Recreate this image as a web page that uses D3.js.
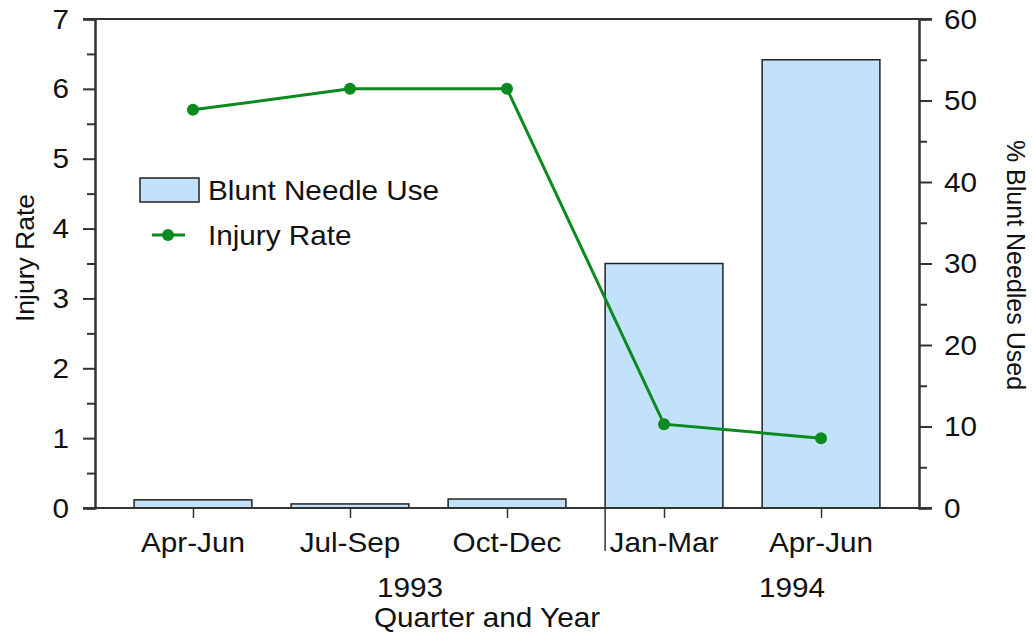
<!DOCTYPE html>
<html>
<head>
<meta charset="utf-8">
<script src="https://cdn.jsdelivr.net/npm/d3@7"></script>
<style>
  body { margin: 0; background: #fff; }
  text { font-family: "Liberation Sans", Arial, sans-serif; fill: #111; }
</style>
</head>
<body>
<script>
// data
const quarters = ["Apr-Jun", "Jul-Sep", "Oct-Dec", "Jan-Mar", "Apr-Jun "];
const quarterLabels = ["Apr-Jun", "Jul-Sep", "Oct-Dec", "Jan-Mar", "Apr-Jun"];
const bluntPct = [1.0, 0.5, 1.1, 30, 55];
const injuryRate = [5.7, 6.0, 6.0, 1.2, 1.0];
const years = [{label: "1993", x: 410}, {label: "1994", x: 792}];
const leftTicks = [0, 1, 2, 3, 4, 5, 6, 7];
const rightTicks = [0, 10, 20, 30, 40, 50, 60];

const width = 1033, height = 637;
const margin = {left: 95, right: 114, top: 19, bottom: 129};
const fs = 27, stretch = 1.1;

const svg = d3.select("body").append("svg")
    .attr("width", width)
    .attr("height", height);

const x = d3.scalePoint()
    .domain(quarters)
    .range([margin.left, width - margin.right])
    .padding(0.624);
const barW = x.step() * 0.75;

const yL = d3.scaleLinear().domain([0, 7]).range([height - margin.bottom, margin.top]);
const yR = d3.scaleLinear().domain([0, 60]).range([height - margin.bottom, margin.top]);

const x0 = margin.left, x1 = width - margin.right, yb = yL(0), yt = yL(7);

// horizontal text with a slight widening like the original
function label(g, txt, tx, ty, anchor) {
    return g.append("text")
        .attr("transform", `translate(${tx},${ty}) scale(${stretch},1)`)
        .attr("text-anchor", anchor)
        .attr("font-size", fs)
        .text(txt);
}

// bars
svg.selectAll("rect.bar")
    .data(bluntPct)
    .join("rect")
    .attr("class", "bar")
    .attr("x", (d, i) => x(quarters[i]) - barW / 2)
    .attr("width", barW)
    .attr("y", d => yR(d))
    .attr("height", d => yR(0) - yR(d))
    .attr("fill", "#c2e1fb")
    .attr("stroke", "#222")
    .attr("stroke-width", 1.5);

// frame lines: top and bottom
svg.append("line").attr("x1", x0 - 12).attr("x2", x1 + 13).attr("y1", yt).attr("y2", yt)
    .attr("stroke", "#333").attr("stroke-width", 2);
svg.append("line").attr("x1", x0 - 12).attr("x2", x1 + 13).attr("y1", yb).attr("y2", yb)
    .attr("stroke", "#333").attr("stroke-width", 2);

// left axis
const gl = svg.append("g").attr("transform", `translate(${x0},0)`);
gl.call(d3.axisLeft(yL).tickValues(leftTicks).tickSize(12).tickFormat(""));
gl.append("g").call(d3.axisLeft(yL).tickValues(d3.range(0.5, 7, 1)).tickSize(8).tickFormat(""));
gl.selectAll(".domain").attr("stroke", "#333").attr("stroke-width", 2);
gl.selectAll(".tick line").attr("stroke", "#333").attr("stroke-width", 2);
leftTicks.forEach(t => label(svg, t, 69, yL(t), "end").attr("dominant-baseline", "central"));

// right axis
const gr = svg.append("g").attr("transform", `translate(${x1},0)`);
gr.call(d3.axisRight(yR).tickValues(rightTicks).tickSize(13).tickFormat(""));
gr.append("g").call(d3.axisRight(yR).tickValues(d3.range(5, 60, 10)).tickSize(8).tickFormat(""));
gr.selectAll(".domain").attr("stroke", "#333").attr("stroke-width", 2);
gr.selectAll(".tick line").attr("stroke", "#333").attr("stroke-width", 2);
rightTicks.forEach(t => label(svg, t, 944, yR(t), "start").attr("dominant-baseline", "central"));

// bottom category ticks and labels
const gb = svg.append("g").attr("transform", `translate(0,${yb})`);
gb.call(d3.axisBottom(x).tickSize(10).tickFormat(""));
gb.select(".domain").remove();
gb.selectAll(".tick line").attr("stroke", "#333").attr("stroke-width", 1.5);
quarters.forEach((q, i) => label(svg, quarterLabels[i], x(q), 552, "middle"));

// year divider
svg.append("line")
    .attr("x1", x(quarters[3]) - barW / 2).attr("x2", x(quarters[3]) - barW / 2)
    .attr("y1", yb).attr("y2", yb + 43)
    .attr("stroke", "#333").attr("stroke-width", 1.5);

years.forEach(yr => label(svg, yr.label, yr.x, 597, "middle"));
label(svg, "Quarter and Year", 487, 627, "middle");

// axis titles
svg.append("text")
    .attr("transform", "translate(34,258) rotate(-90)")
    .attr("text-anchor", "middle")
    .attr("font-size", 26.5)
    .text("Injury Rate");
svg.append("text")
    .attr("transform", "translate(1007,265) rotate(90)")
    .attr("text-anchor", "middle")
    .attr("font-size", 25)
    .text("% Blunt Needles Used");

// injury rate line
const line = d3.line()
    .x((d, i) => x(quarters[i]))
    .y(d => yL(d));
svg.append("path")
    .datum(injuryRate)
    .attr("d", line)
    .attr("fill", "none")
    .attr("stroke", "#0b8a1f")
    .attr("stroke-width", 3);
svg.selectAll("circle.pt")
    .data(injuryRate)
    .join("circle")
    .attr("class", "pt")
    .attr("cx", (d, i) => x(quarters[i]))
    .attr("cy", d => yL(d))
    .attr("r", 6)
    .attr("fill", "#0b8a1f");

// legend
const lg = svg.append("g");
lg.append("rect").attr("x", 140).attr("y", 178).attr("width", 59).attr("height", 24)
    .attr("fill", "#c2e1fb").attr("stroke", "#222").attr("stroke-width", 1.5);
label(lg, "Blunt Needle Use", 208, 200, "start");
lg.append("line").attr("x1", 152).attr("x2", 185).attr("y1", 235).attr("y2", 235)
    .attr("stroke", "#0b8a1f").attr("stroke-width", 3);
lg.append("circle").attr("cx", 168).attr("cy", 235).attr("r", 6).attr("fill", "#0b8a1f");
label(lg, "Injury Rate", 208, 245, "start");
</script>
</body>
</html>
